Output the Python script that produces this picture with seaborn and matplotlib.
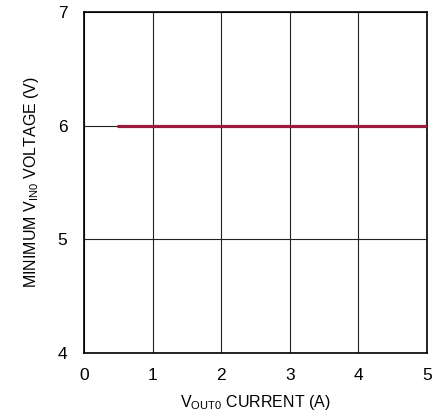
import matplotlib
matplotlib.use("Agg")
import matplotlib.pyplot as plt
import seaborn as sns
import pandas as pd

current = [0.5, 5.0]
min_vin = [6.0, 6.0]
x_ticks = [0, 1, 2, 3, 4, 5]
y_ticks = [4, 5, 6, 7]

sns.set_theme(style="white")
plt.rcParams['font.family'] = ['Liberation Sans', 'DejaVu Sans']
plt.rcParams['mathtext.fontset'] = 'custom'
plt.rcParams['mathtext.rm'] = 'Liberation Sans'
plt.rcParams['mathtext.it'] = 'Liberation Sans'
plt.rcParams['text.color'] = 'black'
plt.rcParams['axes.labelcolor'] = 'black'
plt.rcParams['xtick.color'] = 'black'
plt.rcParams['ytick.color'] = 'black'

fig = plt.figure(figsize=(4.4, 4.12), dpi=100)
ax = fig.add_axes([0.191, 0.143, 0.779, 0.828])

df = pd.DataFrame({"current": current, "vin": min_vin})
sns.lineplot(data=df, x="current", y="vin", ax=ax, color="#9B1B3F", linewidth=2.3, zorder=3)

ax.set_xlim(0, 5)
ax.set_ylim(4, 7)
ax.set_xticks(x_ticks)
ax.set_yticks(y_ticks)
ax.set_xticklabels([str(t) for t in x_ticks], fontsize=12.5)
ax.set_yticklabels([str(t) for t in y_ticks], fontsize=12.5)
ax.grid(True, color="#222222", linewidth=0.8)
ax.tick_params(axis='y', length=0, pad=12)
ax.tick_params(axis='x', length=0, pad=11)
for s in ax.spines.values():
    s.set_color("black")
    s.set_linewidth(1.2)
ax.set_xlabel(r"V$_{\mathrm{OUT0}}$ CURRENT (A)", fontsize=11.5, labelpad=7)
ax.set_ylabel(r"MINIMUM V$_{\mathrm{IN0}}$ VOLTAGE (V)", fontsize=11.5, labelpad=12)

fig.savefig("out.png", dpi=100)
